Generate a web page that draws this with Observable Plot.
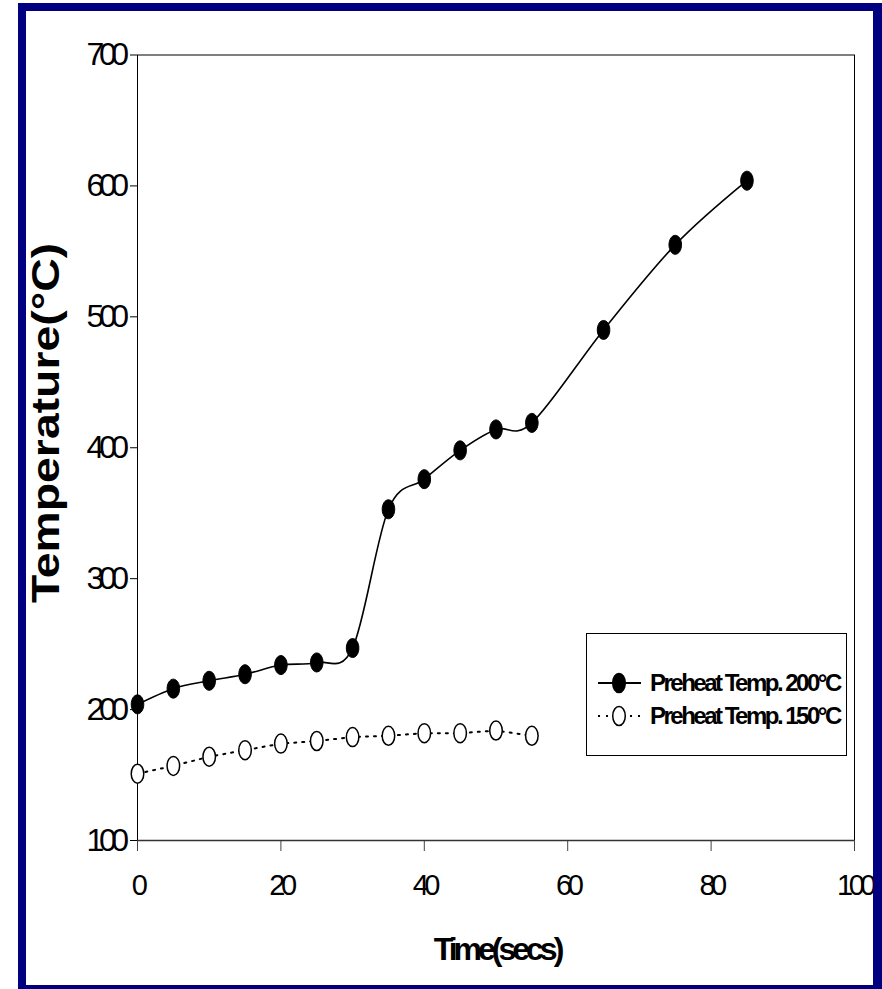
<!DOCTYPE html>
<html>
<head>
<meta charset="utf-8">
<script src="https://cdn.jsdelivr.net/npm/d3@7"></script>
<script src="https://cdn.jsdelivr.net/npm/@observablehq/plot@0.6"></script>
<style>
  html, body { margin: 0; padding: 0; background: white; }
  #wrap { position: relative; width: 882px; height: 989px; background: white; overflow: hidden; }
  #border { position: absolute; left: 18px; top: 3px; width: 847px; height: 974px;
            border-style: solid; border-color: #000080;
            border-width: 8px 9px 4px 8px; z-index: 5; pointer-events: none; }
  g[aria-label="x-axis tick label"] text { letter-spacing: -4.5px; }
  g[aria-label="y-axis tick label"] text { letter-spacing: -5.5px; }
</style>
</head>
<body>
<div id="wrap"><div id="border"></div></div>
<script>
// ---- data ----
const time200 = [0, 5, 10, 15, 20, 25, 30, 35, 40, 45, 50, 55, 65, 75, 85];
const temp200 = [204, 216, 222, 227, 234, 236, 247, 353, 376, 398, 414, 419, 490, 555, 604];
const time150 = [0, 5, 10, 15, 20, 25, 30, 35, 40, 45, 50, 55];
const temp150 = [151, 157, 164, 169, 174, 176, 179, 180, 182, 182, 184, 180];
const xTicks = [0, 20, 40, 60, 80, 100];
const yTicks = [100, 200, 300, 400, 500, 600, 700];
const seriesNames = ["Preheat Temp. 200\u00B0C", "Preheat Temp. 150\u00B0C"];
const xTitle = "Time(secs)";
const yTitle = "Temperature(\u00B0C)";

const d200 = time200.map((t, i) => ({t, v: temp200[i]}));
const d150 = time150.map((t, i) => ({t, v: temp150[i]}));

// ellipse marker (taller than wide)
const ellipse = {
  draw(ctx, size) {
    const r = Math.sqrt(size / Math.PI);
    const rx = r * 0.66, ry = r, k = 0.5523;
    ctx.moveTo(rx, 0);
    ctx.bezierCurveTo(rx, k * ry, k * rx, ry, 0, ry);
    ctx.bezierCurveTo(-k * rx, ry, -rx, k * ry, -rx, 0);
    ctx.bezierCurveTo(-rx, -k * ry, -k * rx, -ry, 0, -ry);
    ctx.bezierCurveTo(k * rx, -ry, rx, -k * ry, rx, 0);
    ctx.closePath();
  }
};

const chart = Plot.plot({
  width: 882,
  height: 989,
  marginLeft: 137,
  marginRight: 28,
  marginTop: 54.5,
  marginBottom: 149,
  style: {background: "transparent", fontFamily: "'Liberation Sans', Arial, sans-serif", color: "black", overflow: "visible"},
  x: {domain: [0, 100]},
  y: {domain: [100, 700]},
  marks: [
    Plot.frame({stroke: "black", strokeWidth: 1}),
    Plot.axisX({ticks: xTicks, tickSize: 11, tickPadding: 23, fontSize: 29, label: null, tickFormat: d => String(d), stroke: "#444"}),
    Plot.axisY({ticks: yTicks, tickSize: 7, tickPadding: 7, fontSize: 32, label: null, tickFormat: d => String(d)}),
    Plot.ruleY([100], {stroke: "#333", strokeWidth: 1.5}),
    Plot.line(d150, {x: "t", y: "v", stroke: "black", strokeWidth: 2, strokeDasharray: "2,6"}),
    Plot.line(d200, {x: "t", y: "v", stroke: "black", strokeWidth: 1.6, curve: "cardinal"}),
    Plot.dot(d150, {x: "t", y: "v", symbol: ellipse, r: 9.5, fill: "white", stroke: "black", strokeWidth: 1.5}),
    Plot.dot(d200, {x: "t", y: "v", symbol: ellipse, r: 9.5, fill: "black", stroke: "black", strokeWidth: 1})
  ]
});

document.getElementById("wrap").appendChild(chart);
chart.style.position = "absolute";
chart.style.left = "0px";
chart.style.top = "0px";

const svg = d3.select(chart);
const ff = "'Liberation Sans', Arial, sans-serif";

// axis titles
svg.append("text")
  .attr("transform", "translate(59,423) rotate(-90) scale(1.22,1)")
  .attr("text-anchor", "middle")
  .attr("font-family", ff).attr("font-weight", "bold").attr("font-size", 38)
  .attr("fill", "black")
  .text(yTitle);

svg.append("text")
  .attr("x", 497).attr("y", 960)
  .attr("text-anchor", "middle")
  .attr("font-family", ff).attr("font-weight", "bold").attr("font-size", 32)
  .attr("letter-spacing", "-4px")
  .attr("fill", "black")
  .text(xTitle);

// legend
const lg = svg.append("g").attr("text-anchor", "start");
lg.append("rect").attr("x", 586.5).attr("y", 633.5).attr("width", 260).attr("height", 122)
  .attr("fill", "white").attr("stroke", "black").attr("stroke-width", 1);
const rows = [
  {y: 683, dash: null, fill: "black"},
  {y: 716, dash: "2,6", fill: "white"}
];
const symPath = d3.symbol(ellipse, 9.5 * 9.5 * Math.PI)();
rows.forEach((r, i) => {
  lg.append("line").attr("x1", 598).attr("x2", 641).attr("y1", r.y).attr("y2", r.y)
    .attr("stroke", "black").attr("stroke-width", 2)
    .attr("stroke-dasharray", r.dash);
  lg.append("path").attr("d", symPath).attr("transform", `translate(619,${r.y})`)
    .attr("fill", r.fill).attr("stroke", "black").attr("stroke-width", 1.5);
  lg.append("text").attr("x", 650).attr("y", r.y + 8)
    .attr("text-anchor", "start")
    .attr("font-family", ff).attr("font-weight", "bold").attr("font-size", 24)
    .attr("letter-spacing", "-2.5px").attr("fill", "black")
    .text(seriesNames[i]);
});
</script>
</body>
</html>
